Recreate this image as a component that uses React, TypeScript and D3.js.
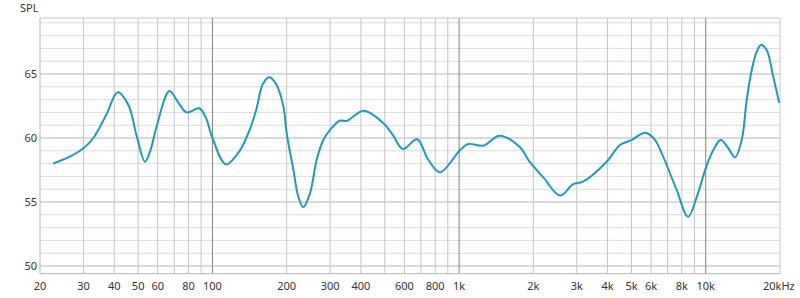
import React from "react";
import * as d3 from "d3";

const freqs = [22.6, 26.4, 30, 32.9, 37.3, 41.3, 45.6, 49.4, 53.3, 56, 59.4, 66.9, 72, 78.6, 88.4, 94, 100, 113.6, 129, 142, 151, 160, 170, 182, 194, 200, 213, 223, 233.6, 248.6, 264.6, 281.5, 300, 328, 350, 410, 494, 540, 592, 676, 750, 836, 1010, 1090, 1256, 1460, 1766, 1924, 2200, 2568, 2900, 3180, 3966, 4490, 5000, 5680, 6200, 6720, 7600, 8480, 9200, 10000, 10733, 11500, 12348, 13140, 13990, 14656, 15360, 16090, 16750, 17660, 18780, 19860];
const spl = [58.0, 58.54, 59.2, 60.0, 61.9, 63.57, 62.6, 60.1, 58.15, 59.0, 60.9, 63.67, 62.9, 62.0, 62.32, 61.6, 60.0, 57.94, 59.0, 60.7, 62.3, 64.2, 64.74, 64.14, 62.45, 60.37, 57.5, 55.41, 54.59, 55.68, 58.28, 59.84, 60.63, 61.35, 61.33, 62.13, 61.15, 60.2, 59.14, 59.9, 58.3, 57.32, 59.06, 59.53, 59.4, 60.18, 59.27, 58.2, 56.9, 55.5, 56.4, 56.59, 58.15, 59.45, 59.84, 60.41, 59.9, 58.54, 56.0, 53.85, 55.4, 57.63, 59.06, 59.84, 59.2, 58.49, 59.84, 62.97, 65.31, 66.74, 67.27, 66.88, 64.79, 62.76];

const xTickValues = [20, 30, 40, 50, 60, 80, 100, 200, 300, 400, 600, 800, 1000, 2000, 3000, 4000, 5000, 6000, 8000, 10000, 20000];
const xTickLabels = ["20", "30", "40", "50", "60", "80", "100", "200", "300", "400", "600", "800", "1k", "2k", "3k", "4k", "5k", "6k", "8k", "10k", "20kHz"];
const yTickValues = [50, 55, 60, 65];
const yLabel = "SPL";

const W = 800, H = 298;
const left = 40, right = 780, top = 18, bottom = 273.7;

export default function App() {
  const x = d3.scaleLog().domain([20, 20000]).range([left, right]);
  const y = d3.scaleLinear().domain([49.4, 69.375]).range([bottom, top]);

  const minorV: number[] = [];
  for (const dec of [10, 100, 1000, 10000]) {
    for (let m = 2; m <= 9; m++) {
      const f = dec * m;
      if (f > 20 && f < 20000) minorV.push(f);
    }
  }
  const majorV = [100, 1000, 10000];
  const hLines = d3.range(50, 70);

  const pts = freqs.map((f, i) => [x(f), y(spl[i])] as [number, number]);
  const line = d3.line().curve(d3.curveCatmullRom.alpha(0.5))(pts) || "";

  const font = "'Noto Sans', 'Open Sans', sans-serif";

  return (
    <svg width={W} height={H} style={{ position: "absolute", left: 0, top: 0, background: "#fff" }} fontFamily={font}>
      {hLines.map((v) => (
        <line key={"h" + v} x1={left} x2={right} y1={y(v)} y2={y(v)} stroke={v % 5 === 0 ? "#b4b4b4" : "#dcdcdc"} strokeWidth={1} />
      ))}
      {minorV.filter((f) => !majorV.includes(f)).map((f) => (
        <line key={"v" + f} x1={x(f)} x2={x(f)} y1={top} y2={bottom} stroke="#c4c4c4" strokeWidth={1} />
      ))}
      {majorV.map((f) => (
        <line key={"m" + f} x1={x(f)} x2={x(f)} y1={top} y2={bottom} stroke="#808080" strokeWidth={1} />
      ))}
      <line x1={left} x2={right} y1={top} y2={top} stroke="#c4c4c4" />
      <line x1={right} x2={right} y1={top} y2={bottom} stroke="#c4c4c4" />
      <line x1={left} x2={left} y1={top} y2={bottom} stroke="#b4b4b4" />
      <line x1={left} x2={right} y1={bottom} y2={bottom} stroke="#b4b4b4" />
      <path d={line} fill="none" stroke="#1a9cc0" strokeWidth={2} />
      {yTickValues.map((v) => (
        <text key={"yt" + v} x={37} y={y(v)} dy="0.36em" textAnchor="end" fontSize={11} fill="#333">{v}</text>
      ))}
      {xTickValues.map((f, i) => (
        <text key={"xt" + f} x={i === xTickValues.length - 1 ? 763 : x(f)} y={290} textAnchor={i === xTickValues.length - 1 ? "start" : "middle"} fontSize={11} fill="#333">{xTickLabels[i]}</text>
      ))}
      <text x={20} y={12} fontSize={11} fill="#333">{yLabel}</text>
    </svg>
  );
}
